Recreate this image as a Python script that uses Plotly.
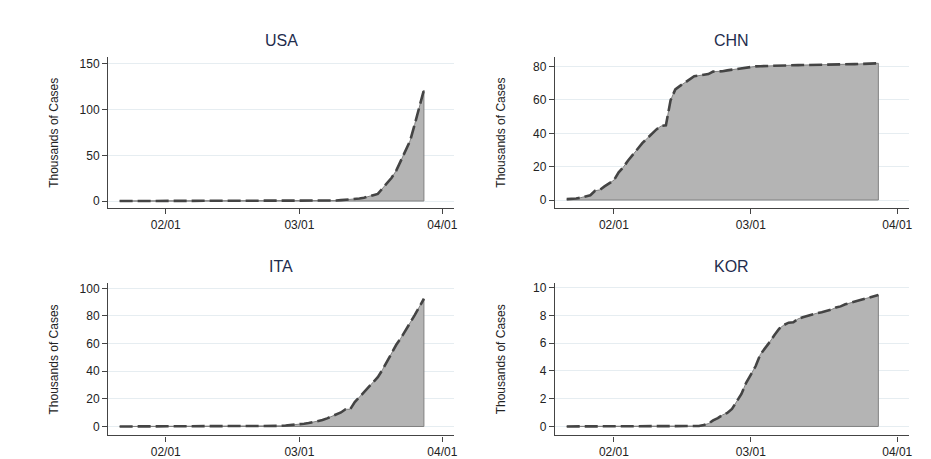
import pandas as pd
import plotly.graph_objects as go

# -----------------------------
# Daten (Tausend Fälle), 22.01. bis 28.03.2020
# -----------------------------
dates = pd.date_range("2020-01-22", "2020-03-28", freq="D")

usa = [1, 1, 2, 2, 5, 5, 5, 5, 5, 7,
       8, 8, 11, 11, 11, 12, 12, 12, 12, 12, 13, 13, 14, 14, 14, 14, 14, 14, 14, 14,
       16, 16, 16, 16, 16, 16, 17, 25, 32,
       74, 98, 118, 149, 217, 262, 402, 518, 583, 959, 1281, 1663, 2179, 2726,
       3499, 4632, 6421, 7786, 13680, 19101, 25493, 33276, 43847, 53740,
       65778, 83836, 101657, 121478]

chn = [548, 643, 920, 1406, 2075, 2877, 5509, 6087, 8141, 9802,
       11891, 16630, 19716, 23707, 27440, 30587, 34110, 36814, 39829, 42354,
       44386, 44759, 59895, 66358, 68413, 70513, 72434, 74211, 74619, 75077,
       75550, 77001, 77022, 77241, 77754, 78166, 78600, 78928, 79356,
       79932, 80136, 80261, 80386, 80537, 80690, 80770, 80823, 80860, 80887,
       80921, 80932, 80945, 80977, 81003, 81033, 81058, 81102, 81156, 81250,
       81305, 81435, 81498, 81591, 81661, 81782, 81897, 81999]

ita = [0, 0, 0, 0, 0, 0, 0, 0, 0, 2,
       2, 2, 2, 2, 2, 2, 3, 3, 3, 3, 3, 3, 3, 3, 3, 3, 3, 3, 3, 3,
       20, 62, 155, 229, 322, 453, 655, 888, 1128,
       1694, 2036, 2502, 3089, 3858, 4636, 5883, 7375, 9172, 10149,
       12462, 12462, 17660, 21157, 24747, 27980, 31506, 35713, 41035, 47021,
       53578, 59138, 63927, 69176, 74386, 80589, 86498, 92472]

kor = [1, 1, 2, 2, 3, 4, 4, 4, 4, 11,
       12, 15, 15, 16, 19, 23, 24, 24, 25, 27, 28, 28, 28, 28, 28, 29, 30, 31, 31,
       104, 204, 433, 602, 833, 977, 1261, 1766, 2337, 3150,
       3736, 4335, 5186, 5621, 6088, 6593, 7041, 7314, 7478, 7513,
       7755, 7869, 7979, 8086, 8162, 8236, 8320, 8413, 8565, 8652,
       8799, 8897, 8961, 9037, 9137, 9241, 9332, 9478]

countries = ["USA", "CHN", "ITA", "KOR"]
series = [usa, chn, ita, kor]
y_ticks = [[0, 50, 100, 150], [0, 20, 40, 60, 80],
           [0, 20, 40, 60, 80, 100], [0, 2, 4, 6, 8, 10]]
y_ranges = [[-8, 158], [-5, 86], [-6.5, 104], [-0.65, 10.35]]

x_ticks = ["2020-02-01", "2020-03-01", "2020-04-01"]
x_labels = ["02/01", "03/01", "04/01"]

# -----------------------------
# Layout-Geometrie
# -----------------------------
x_doms = [[0.108, 0.481], [0.590, 0.972]]
y_doms = [[0.566, 0.898], [0.069, 0.403]]

fig = go.Figure()
layout = dict(width=931, height=459, margin=dict(l=0, r=0, t=0, b=0),
              paper_bgcolor="white", plot_bgcolor="white",
              font=dict(family="Liberation Sans, Arial", size=12, color="#222"),
              showlegend=False)
annotations = []

for i, (name, vals) in enumerate(zip(countries, series)):
    r, c = divmod(i, 2)
    k = "" if i == 0 else str(i + 1)
    xa, ya = "x" + k, "y" + k
    y = [v / 1000 for v in vals]

    # Fläche (geschlossenes Polygon inkl. rechter Kante)
    px_ = list(dates) + [dates[-1], dates[0]]
    py_ = y + [0, 0]
    fig.add_trace(go.Scatter(x=px_, y=py_, mode="lines", fill="toself",
                             fillcolor="#b4b4b4", line=dict(color="#808080", width=1),
                             xaxis=xa, yaxis=ya, hoverinfo="skip"))
    fig.add_trace(go.Scatter(x=dates, y=y, mode="lines",
                             line=dict(color="#444444", width=2.6, dash="13px,5px"),
                             xaxis=xa, yaxis=ya))

    layout["xaxis" + k] = dict(domain=x_doms[c], anchor=ya,
                               range=["2020-01-19 12:00", "2020-04-03 12:00"],
                               tickvals=x_ticks, ticktext=x_labels,
                               showgrid=False, showline=True, linecolor="#444",
                               linewidth=1.2, ticks="outside", ticklen=5,
                               tickcolor="#444", zeroline=False)
    layout["yaxis" + k] = dict(domain=y_doms[r], anchor=xa, range=y_ranges[i],
                               tickvals=y_ticks[i], showgrid=True,
                               gridcolor="#e6edf1", gridwidth=1,
                               showline=True, linecolor="#444", linewidth=1.2,
                               ticks="outside", ticklen=5, tickcolor="#444",
                               zeroline=False)
    annotations.append(dict(text=name, xref="paper", yref="paper",
                            x=sum(x_doms[c]) / 2, y=y_doms[r][1] + 0.012,
                            xanchor="center", yanchor="bottom", showarrow=False,
                            font=dict(size=16, color="#1f2d4d")))
    annotations.append(dict(text="Thousands of Cases", xref="paper", yref="paper",
                            x=x_doms[c][0] - 0.058, y=sum(y_doms[r]) / 2,
                            textangle=-90, xanchor="center", yanchor="middle",
                            showarrow=False, font=dict(size=12, color="#222")))

layout["annotations"] = annotations
fig.update_layout(**layout)
fig.write_html("out.html")
